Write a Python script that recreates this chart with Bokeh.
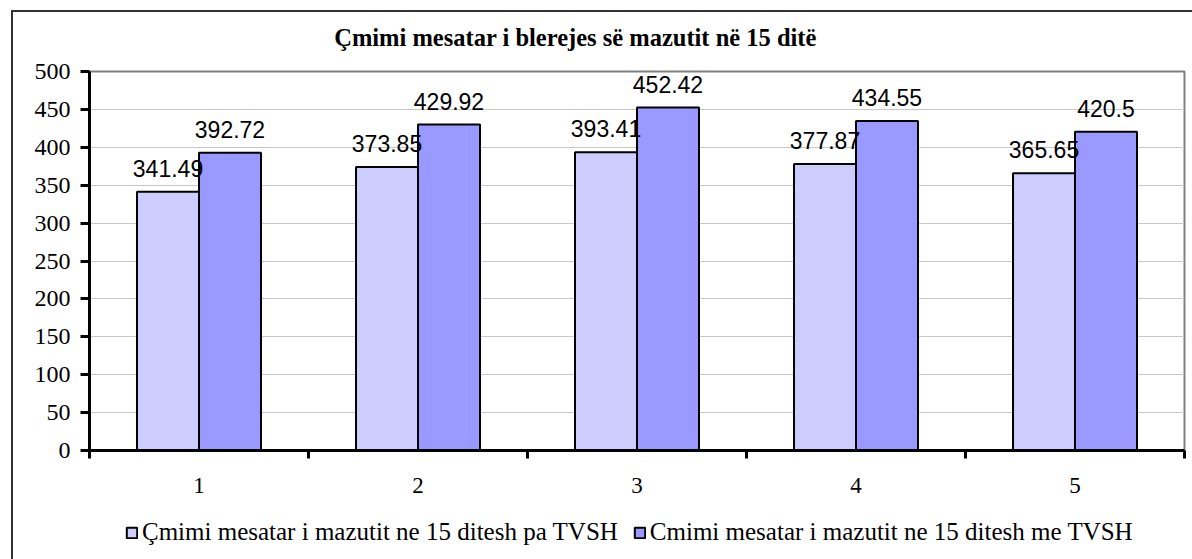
from bokeh.plotting import figure
from bokeh.layouts import column
from bokeh.models import (ColumnDataSource, Range1d, LinearAxis, FixedTicker, LabelSet,
                          Legend, LegendItem, Label, InlineStyleSheet)
from bokeh.core.properties import value
from bokeh.embed import file_html
from bokeh.resources import INLINE

# ---- data ----
title_text = "Çmimi mesatar i blerejes së mazutit në 15 ditë"
categories = [1, 2, 3, 4, 5]
category_labels = ["1", "2", "3", "4", "5"]
series_names = ["Çmimi mesatar i mazutit ne 15 ditesh pa TVSH",
                "Cmimi mesatar i mazutit ne 15 ditesh me TVSH"]
pa_tvsh = [341.49, 373.85, 393.41, 377.87, 365.65]
me_tvsh = [392.72, 429.92, 452.42, 434.55, 420.5]
y_ticks = [0, 50, 100, 150, 200, 250, 300, 350, 400, 450, 500]

# ---- style ----
SERIF = "Liberation Serif"
SANS = "Liberation Sans"
BAR_W = 0.283
C_LIGHT = "#CCCCFF"
C_DARK = "#9999FF"
BAR_STYLES = [dict(fill_color=C_LIGHT, line_color="black", line_width=2),
              dict(fill_color=C_DARK, line_color="black", line_width=2)]

W = 1192
H_TITLE, H_MAIN, H_LEG = 52, 458, 49
FRAME_L, FRAME_R = 89, 8
FRAME_W = W - FRAME_L - FRAME_R


def strip(height):
    f = figure(width=W, height=height, x_range=Range1d(0, FRAME_W), y_range=Range1d(0, height),
               title=None, output_backend="svg", toolbar_location=None,
               x_axis_location=None, y_axis_location=None,
               min_border_left=FRAME_L, min_border_right=FRAME_R,
               min_border_top=0, min_border_bottom=0)
    f.outline_line_color = None
    f.xgrid.visible = False
    f.ygrid.visible = False
    f.background_fill_color = "white"
    f.border_fill_color = "white"
    return f


def border_css(top):
    extra = "border-top: 2px solid #333;" if top else ""
    return InlineStyleSheet(css=""":host::after { content: ""; position: absolute;
        left: 11px; top: %s; right: 0; bottom: 0; border-left: 2px solid #333; %s
        pointer-events: none; }""" % ("10px" if top else "0", extra))


# ---- title strip ----
pt = strip(H_TITLE)
pt.add_layout(Label(x=575 - FRAME_L, y=H_TITLE - 37, text=title_text,
                    text_align="center", text_baseline="alphabetic",
                    text_font=SERIF, text_font_style="bold", text_font_size="24.5px",
                    text_color="black"))
pt.stylesheets = [border_css(True)]

# ---- main chart ----
p = figure(width=W, height=H_MAIN, x_range=Range1d(0.5, 5.5), y_range=Range1d(0, 500),
           title=None, output_backend="svg", toolbar_location=None,
           x_axis_location=None, y_axis_location=None,
           min_border_left=FRAME_L, min_border_right=FRAME_R, min_border_top=71 - H_TITLE,
           min_border_bottom=60)
p.outline_line_color = "#808080"
p.outline_line_width = 2
p.background_fill_color = "white"
p.border_fill_color = "white"
p.xgrid.grid_line_color = None
p.ygrid.ticker = FixedTicker(ticks=y_ticks)
p.ygrid.grid_line_color = "#c8c8c8"
p.ygrid.grid_line_width = 1

src = ColumnDataSource(dict(
    x1=[c - BAR_W / 2 for c in categories],
    x2=[c + BAR_W / 2 for c in categories],
    v1=pa_tvsh, v2=me_tvsh,
    t1=[str(v) for v in pa_tvsh], t2=[str(v) for v in me_tvsh],
))

p.vbar(x="x1", top="v1", width=BAR_W, bottom=0, source=src, **BAR_STYLES[0])
p.vbar(x="x2", top="v2", width=BAR_W, bottom=0, source=src, **BAR_STYLES[1])

for xf, tf, vf in (("x1", "t1", "v1"), ("x2", "t2", "v2")):
    p.add_layout(LabelSet(x=xf, y=vf, text=tf, source=src, y_offset=15,
                          text_align="center", text_baseline="alphabetic",
                          text_font=value(SANS), text_font_size="23px", text_color="black"))

ya = LinearAxis(ticker=FixedTicker(ticks=y_ticks), axis_line_width=3, axis_line_color="black",
                major_tick_out=9, major_tick_in=0, major_tick_line_width=3,
                minor_tick_line_color=None, major_label_standoff=10,
                major_label_text_font=SERIF, major_label_text_font_size="24px",
                major_label_text_color="black")
p.add_layout(ya, "left")

bounds = [c - 0.5 for c in categories] + [categories[-1] + 0.5]
xa1 = LinearAxis(ticker=FixedTicker(ticks=bounds), axis_line_width=3, axis_line_color="black",
                 major_tick_out=8, major_tick_in=0, major_tick_line_width=3,
                 minor_tick_line_color=None, major_label_standoff=0,
                 major_label_text_font_size="0px",
                 major_label_overrides={b: "" for b in bounds})
p.add_layout(xa1, "below")
xa2 = LinearAxis(ticker=FixedTicker(ticks=categories), axis_line_color=None,
                 major_tick_line_color=None, minor_tick_line_color=None,
                 major_tick_out=0, major_tick_in=0, major_label_standoff=19,
                 major_label_text_font=SERIF, major_label_text_font_size="23px",
                 major_label_text_color="black",
                 major_label_overrides={c: l for c, l in zip(categories, category_labels)})
p.add_layout(xa2, "below")
p.stylesheets = [border_css(False)]

# ---- legend strip ----
pl = strip(H_LEG)
# legend swatches: renderers with no drawable data, only their style is shown in the legend
nan = float("nan")
lr1 = pl.vbar(x=[nan], top=[nan], bottom=[nan], width=1, **BAR_STYLES[0])
lr2 = pl.vbar(x=[nan], top=[nan], bottom=[nan], width=1, **BAR_STYLES[1])
legend = Legend(items=[LegendItem(label=series_names[0], renderers=[lr1]),
                       LegendItem(label=series_names[1], renderers=[lr2])],
                orientation="horizontal", location=(125 - FRAME_L, 13),
                glyph_width=13, glyph_height=13, label_height=13, label_standoff=4, spacing=15,
                label_text_font=SERIF, label_text_font_size="25px", label_text_color="black",
                border_line_color=None, background_fill_alpha=0, padding=0, margin=0)
pl.add_layout(legend, "center")
pl.stylesheets = [border_css(False)]

layout = column(pt, p, pl, spacing=0)
open("out.html", "w").write(file_html(layout, INLINE))
